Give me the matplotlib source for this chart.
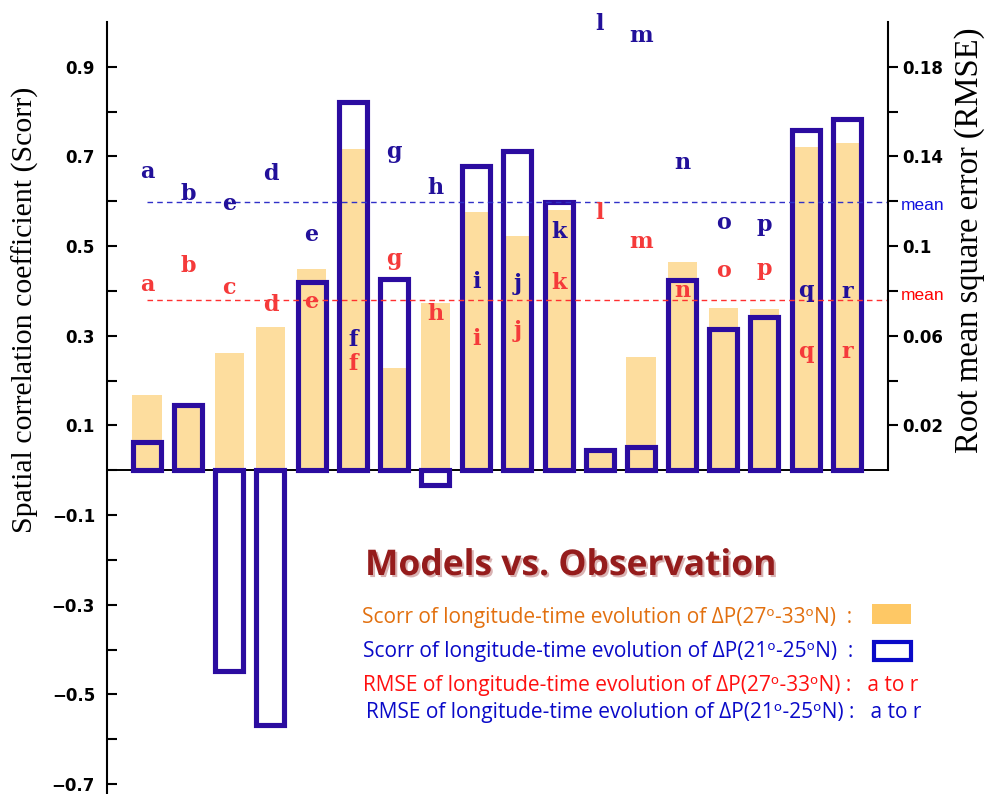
import matplotlib
matplotlib.use("Agg")
import matplotlib.pyplot as plt
import matplotlib.patheffects as pe
from matplotlib.patches import Rectangle
from matplotlib.transforms import blended_transform_factory

W, H = 986, 794

# ---------------------------------------------------------------
# Data
# ---------------------------------------------------------------
models = list("abcdefghijklmnopqr")

# blue tags as printed in the figure (3rd column is labelled "e")
south_tags = list("abedefghijklmnopqr")

# Scorr of dP(27-33N) -> filled orange bars
scorr_north = [0.169, 0.150, 0.261, 0.319, 0.450, 0.716, 0.229, 0.374, 0.577,
               0.522, 0.580, 0.045, 0.252, 0.464, 0.363, 0.359, 0.722, 0.729]
# Scorr of dP(21-25N) -> blue outlined bars
scorr_south = [0.064, 0.146, -0.447, -0.567, 0.420, 0.822, 0.427, -0.032, 0.679,
               0.712, 0.599, 0.046, 0.052, 0.425, 0.316, 0.342, 0.759, 0.784]

# RMSE (right axis) -> letters
rmse_north = [0.0825, 0.0910, 0.0812, 0.0736, 0.0749, 0.0473, 0.0941, 0.0696, 0.0584,
              0.0620, 0.0834, 0.1150, 0.1017, 0.0798, 0.0887, 0.0896, 0.0526, 0.0526]
rmse_south = [0.1329, 0.1231, 0.1186, 0.1320, 0.1052, 0.0580, 0.1418, 0.1258, 0.0838,
              0.0829, 0.1061, 0.1989, 0.1938, 0.1371, 0.1104, 0.1095, 0.0798, 0.0796]
rmse_north_mean = 0.0758
rmse_south_mean = 0.1195

left_ticks = [-0.7, -0.5, -0.3, -0.1, 0.1, 0.3, 0.5, 0.7, 0.9]
left_labels = ["\u22120.7", "\u22120.5", "\u22120.3", "\u22120.1", "0.1", "0.3", "0.5", "0.7", "0.9"]
left_minor = [-0.6, -0.4, -0.2, 0.0, 0.2, 0.4, 0.6, 0.8]
right_ticks = [0.02, 0.06, 0.1, 0.14, 0.18]
right_labels = ["0.02", "0.06", "0.1", "0.14", "0.18"]
right_minor = [0.04, 0.08, 0.12, 0.16]

# ---------------------------------------------------------------
# Styles
# ---------------------------------------------------------------
ORANGE_BAR = "#fddd9e"
BLUE_BAR = "#2b0ca0"
BLUE_TXT = "#22109a"
RED_TXT = "#f53a3a"
LEG_ORANGE = "#e2700f"
LEG_BLUE = "#0a0ac8"
LEG_RED = "#ff1010"
TITLE_RED = "#951c1c"

YMIN, YMAX = -0.722, 1.0
SCALE = 5.0  # Scorr = 5 * RMSE on the two axes


def px(xp, yp):
    # pixel position (from top-left) -> figure fraction
    return xp / W, 1 - yp / H


fig = plt.figure(figsize=(W / 100, H / 100), dpi=100)
ax = fig.add_axes([107 / W, 0.0, (888 - 107) / W, (794 - 22) / H])
ax2 = ax.twinx()

x = list(range(len(models)))

ax.bar(x, scorr_north, width=0.71, color=ORANGE_BAR, zorder=1)
ax.bar(x, scorr_south, width=0.68, fill=False, edgecolor=BLUE_BAR,
       linewidth=3.7, zorder=3)
ax.axhline(0, color="black", lw=1.4, zorder=2)

ax.set_xlim(-0.97, 18.0)
ax.set_ylim(YMIN, YMAX)
ax2.set_ylim(YMIN / SCALE, YMAX / SCALE)

for s in ["top", "bottom", "right"]:
    ax.spines[s].set_visible(False)
for s in ["top", "bottom", "left"]:
    ax2.spines[s].set_visible(False)
ax.spines["left"].set_linewidth(1.5)
ax2.spines["right"].set_linewidth(1.5)
ax2.spines["right"].set_bounds(0, 0.2)

ax.set_xticks([])
ax.set_yticks(left_ticks)
ax.set_yticklabels(left_labels, fontweight="bold", fontsize=12)
ax.set_yticks(left_minor, minor=True)
ax.tick_params(axis="y", which="both", direction="in", length=7, width=1.5, pad=8.6)

ax2.set_yticks(right_ticks)
ax2.set_yticklabels(right_labels, fontweight="bold", fontsize=12)
ax2.set_yticks(right_minor, minor=True)
ax2.tick_params(axis="y", which="both", direction="out", length=7, width=1.5, pad=3.5)

# mean lines
ax2.hlines(rmse_south_mean, 0, 18.0, colors="#3030c8", linestyles=(0, (4, 3)), lw=1.0)
ax2.hlines(rmse_north_mean, 0, 18.0, colors="#ff3030", linestyles=(0, (4, 3)), lw=1.0)
trans = blended_transform_factory(ax2.transAxes, ax2.transData)
ax2.text(1.017, rmse_south_mean - 0.0015, "mean", color="#1010e0", fontsize=12.5,
         family="Liberation Sans", va="center", ha="left", transform=trans)
ax2.text(1.017, rmse_north_mean + 0.002, "mean", color="#ff0000", fontsize=12.5,
         family="Liberation Sans", va="center", ha="left", transform=trans)

# RMSE letters
for i in x:
    ax2.text(i, rmse_south[i], south_tags[i], color=BLUE_TXT, fontsize=16,
             fontweight="bold", family="DejaVu Serif", ha="center", va="center", zorder=5)
    ax2.text(i, rmse_north[i], models[i], color=RED_TXT, fontsize=16,
             fontweight="bold", family="DejaVu Serif", ha="center", va="center", zorder=5)

# axis titles
fig.text(*px(25, 310), "Spatial correlation coefficient (Scorr)",
         rotation=90, ha="center", va="center", fontsize=21.5, family="Liberation Serif")
fig.text(*px(970, 240), "Root mean square error (RMSE)",
         rotation=90, ha="center", va="center", fontsize=23.5, family="Liberation Serif")

# legend block
fig.text(*px(365, 575), "Models vs. Observation", color=TITLE_RED,
         fontsize=25.5, fontweight="bold", family="Open Sans", ha="left", va="baseline",
         path_effects=[pe.withSimplePatchShadow(offset=(1.5, -1.5),
                                                shadow_rgbFace="#c08080", alpha=0.6)])

leg_font = ["Open Sans", "DejaVu Sans"]
leg_size = 15
fig.text(*px(362, 623),
         "Scorr of longitude-time evolution of \u0394P(27\u1d52-33\u1d52N)  :",
         color=LEG_ORANGE, fontsize=leg_size, family=leg_font, ha="left", va="baseline")
fig.text(*px(363, 657),
         "Scorr of longitude-time evolution of \u0394P(21\u1d52-25\u1d52N)  :",
         color=LEG_BLUE, fontsize=leg_size, family=leg_font, ha="left", va="baseline")
fig.text(*px(363, 691),
         "RMSE of longitude-time evolution of \u0394P(27\u1d52-33\u1d52N) :   a to r",
         color=LEG_RED, fontsize=leg_size, family=leg_font, ha="left", va="baseline")
fig.text(*px(366, 718),
         "RMSE of longitude-time evolution of \u0394P(21\u1d52-25\u1d52N) :   a to r",
         color=LEG_BLUE, fontsize=leg_size, family=leg_font, ha="left", va="baseline")

fig.patches.append(Rectangle(px(872, 624), 39 / W, 20 / H,
                             transform=fig.transFigure, facecolor="#fec865",
                             edgecolor="none"))
fig.patches.append(Rectangle(px(874, 660), 37 / W, 18 / H,
                             transform=fig.transFigure, facecolor="white",
                             edgecolor="#0a0ac8", linewidth=3))

fig.savefig("out.png", dpi=100)
